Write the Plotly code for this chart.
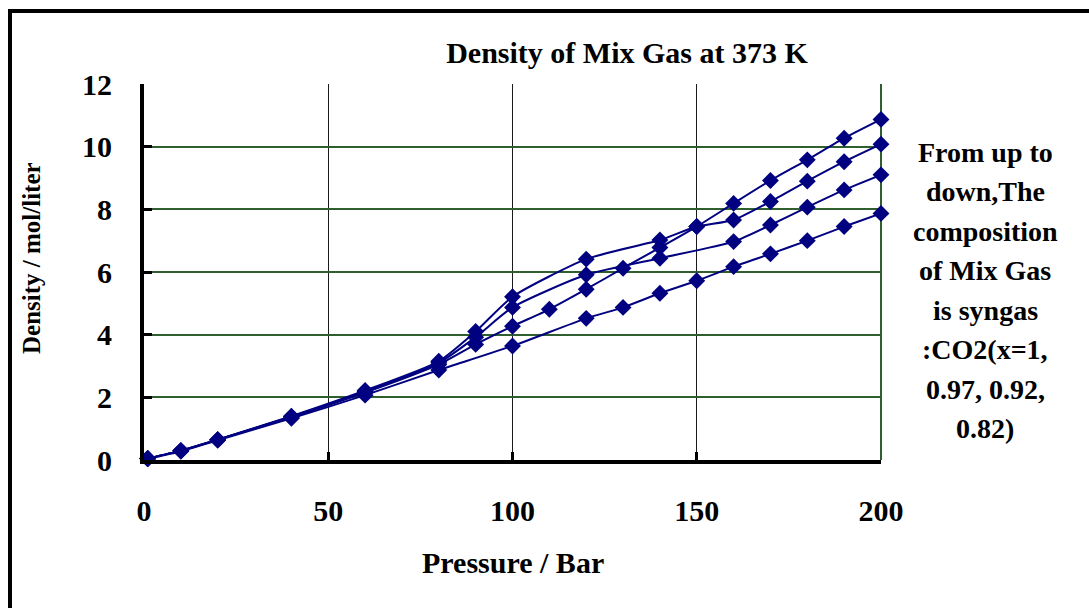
import plotly.graph_objects as go

# ---- data ----
p_a = [1, 10, 20, 40, 60, 80, 90, 100, 120, 140, 150, 160, 170, 180, 190, 200]
d_a = [0.05, 0.30, 0.65, 1.40, 2.22, 3.15, 4.10, 5.21, 6.41, 7.02, 7.45, 7.66, 8.25, 8.90, 9.52, 10.08]

p_b = [1, 10, 20, 40, 60, 80, 90, 100, 120, 140, 160, 170, 180, 190, 200]
d_b = [0.05, 0.30, 0.65, 1.38, 2.18, 3.10, 3.92, 4.87, 5.91, 6.44, 6.97, 7.50, 8.07, 8.62, 9.10]

p_c = [1, 10, 20, 40, 60, 80, 90, 100, 110, 120, 130, 140, 150, 160, 170, 180, 190, 200]
d_c = [0.05, 0.30, 0.65, 1.37, 2.15, 3.05, 3.69, 4.27, 4.81, 5.45, 6.12, 6.78, 7.45, 8.19, 8.92, 9.58, 10.27, 10.87]

p_d = [1, 10, 20, 40, 60, 80, 100, 120, 130, 140, 150, 160, 170, 180, 190, 200]
d_d = [0.04, 0.28, 0.63, 1.33, 2.07, 2.87, 3.64, 4.52, 4.87, 5.32, 5.72, 6.17, 6.58, 7.00, 7.45, 7.87]

x_ticks = [0, 50, 100, 150, 200]
y_ticks = [0, 2, 4, 6, 8, 10, 12]

note_lines = ["From up to", "down,The", "composition", "of Mix Gas",
              "is syngas", ":CO2(x=1,", "0.97, 0.92,", "0.82)"]

FONT = "Liberation Serif"
NAVY = "#000080"
GREEN = "#2f5f2f"

W, H = 1089, 608
L, R, T, B = 144, 208, 84, 148
PW, PH = W - L - R, H - T - B

def px_x(px):
    return (px - L) / PW

def px_y(py):
    return (H - B - py) / PH

fig = go.Figure()
for px, dy in [(p_a, d_a), (p_b, d_b), (p_c, d_c), (p_d, d_d)]:
    fig.add_trace(go.Scatter(
        x=px, y=dy, mode="lines+markers",
        line=dict(color=NAVY, width=2, shape="spline", smoothing=0.6),
        marker=dict(symbol="diamond", size=13, color=NAVY),
        showlegend=False, cliponaxis=False,
    ))

fig.update_layout(
    width=W, height=H,
    margin=dict(l=L, r=R, t=T, b=B, pad=0),
    paper_bgcolor="white", plot_bgcolor="white",
    font=dict(family=FONT, color="black"),
    title=dict(text="Density of Mix Gas at 373 K",
               font=dict(family=FONT, size=30, weight="bold", color="black"),
               x=px_x(627), xanchor="center", xref="paper",
               y=1 - 52 / H, yanchor="middle", yref="container"),
    showlegend=False,
)

fig.update_xaxes(
    range=[0, 200], tickvals=x_ticks, ticktext=[str(v) for v in x_ticks],
    showline=True, linecolor="black", linewidth=4,
    ticks="inside", ticklen=8, tickwidth=3, tickcolor="black",
    showgrid=True, gridcolor="#1a1a1a", gridwidth=1,
    zeroline=False,
    tickfont=dict(family=FONT, size=30, weight="bold", color="black"),
    ticklabelstandoff=21,
)
fig.update_yaxes(
    range=[0, 12], tickvals=y_ticks, ticktext=[str(v) for v in y_ticks],
    showline=True, linecolor="black", linewidth=4,
    ticks="inside", ticklen=8, tickwidth=3, tickcolor="black",
    showgrid=True, gridcolor=GREEN, gridwidth=1.5,
    zeroline=False,
    tickfont=dict(family=FONT, size=30, weight="bold", color="black"),
    ticklabelstandoff=22,
)

# right plot edge (green) and outer chart frame
fig.add_shape(type="line", xref="x domain", yref="y domain",
              x0=1, x1=1, y0=0, y1=1, line=dict(color=GREEN, width=2), layer="below")
fig.add_shape(type="rect", xref="paper", yref="paper",
              x0=px_x(10), x1=px_x(1200), y0=px_y(700), y1=px_y(11),
              line=dict(color="black", width=4), fillcolor="rgba(0,0,0,0)", layer="below")

# axis titles
fig.add_annotation(text="Pressure / Bar", xref="paper", yref="paper",
                   x=px_x(513), y=px_y(562), xanchor="center", yanchor="middle",
                   showarrow=False,
                   font=dict(family=FONT, size=30, weight="bold", color="black"))
fig.add_annotation(text="Density / mol/liter", xref="paper", yref="paper",
                   x=px_x(31), y=px_y(258), xanchor="center", yanchor="middle",
                   textangle=-90, showarrow=False,
                   font=dict(family=FONT, size=25, weight="bold", color="black"))

# right-hand note
for i, line in enumerate(note_lines):
    fig.add_annotation(text=line, xref="paper", yref="paper",
                       x=px_x(985), y=px_y(152 + 39.5 * i),
                       xanchor="center", yanchor="middle", showarrow=False,
                       font=dict(family=FONT, size=28, weight="bold", color="black"))

fig.write_html("out.html")
